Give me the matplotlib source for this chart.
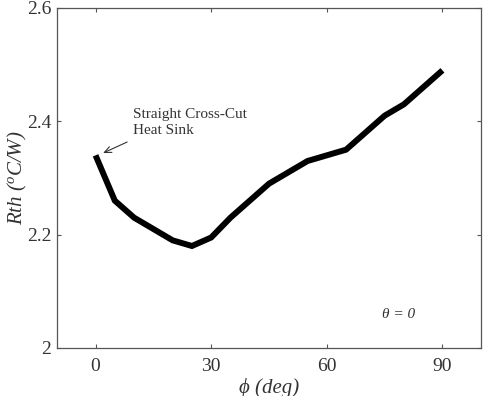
import matplotlib
matplotlib.use("Agg")
import matplotlib.pyplot as plt

# Data
phi = [0, 5, 10, 15, 20, 25, 30, 35, 45, 55, 65, 75, 80, 90]
rth = [2.34, 2.26, 2.23, 2.21, 2.19, 2.18, 2.195, 2.23, 2.29, 2.33, 2.35, 2.41, 2.43, 2.49]
xticks = [0, 30, 60, 90]
yticks = [2.0, 2.2, 2.4, 2.6]
ytick_labels = ["2", "2.2", "2.4", "2.6"]

plt.rcParams['font.family'] = ['Liberation Serif', 'DejaVu Serif']
plt.rcParams['mathtext.fontset'] = 'custom'
plt.rcParams['mathtext.rm'] = 'Liberation Serif'
plt.rcParams['mathtext.it'] = 'Liberation Serif:italic'

fig = plt.figure(figsize=(4.84, 3.96), dpi=100)
ax = fig.add_axes([57/484, 48/396, 424/484, 340/396])

ax.plot(phi, rth, color='black', lw=4.3, solid_capstyle='butt', solid_joinstyle='miter')

ax.set_xlim(-10, 100)
ax.set_ylim(2.0, 2.6)
ax.set_xticks(xticks)
ax.set_xticklabels([str(t) for t in xticks])
ax.set_yticks(yticks)
ax.set_yticklabels(ytick_labels)

txtcol = '#333333'
for s in ax.spines.values():
    s.set_color('#555555')
    s.set_linewidth(0.9)
ax.tick_params(direction='in', length=3, width=0.8, color='#555555',
               top=True, right=True, labelsize=14, labelcolor=txtcol)
ax.tick_params(axis='x', pad=7)
ax.tick_params(axis='y', pad=4)

ax.set_xlabel('ϕ (deg)', fontsize=15, style='italic', color=txtcol, labelpad=2)
ax.set_ylabel('Rth ($^{o}$C/W)', fontsize=15, style='italic', color=txtcol,
              va='center')
ax.yaxis.set_label_coords(-0.093, 0.5)

ax.text(9.7, 2.4235, 'Straight Cross-Cut\nHeat Sink', fontsize=11, color=txtcol,
        ha='left', va='top', linespacing=1.3)
ax.annotate('', xy=(1.95, 2.344), xytext=(8.2, 2.3635),
            arrowprops=dict(arrowstyle='->,head_length=0.5,head_width=0.22',
                            lw=0.8, color=txtcol, shrinkA=0, shrinkB=0))
ax.text(74.3, 2.06, 'θ = 0', fontsize=11, style='italic', color=txtcol,
        ha='left', va='center')

fig.savefig('out.png', dpi=100)
